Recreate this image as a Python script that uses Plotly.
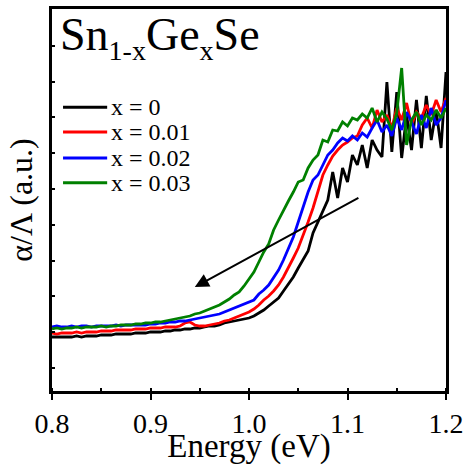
import plotly.graph_objects as go

energy = [round(0.8 + 0.005 * i, 3) for i in range(81)]

# absorption (a.u.)
y_x000 = [54, 54, 54, 54, 54, 55, 54, 55, 55, 55,
          56, 56, 56, 57, 57, 57, 57, 58, 58, 58,
          59, 59, 59, 60, 60, 61, 61, 62, 62, 63,
          63, 64, 65, 65, 66, 68, 69, 70, 71, 72,
          73, 75, 78, 81, 85, 89, 93, 100, 107, 114,
          123, 131, 140, 158, 169, 181, 191, 219, 193, 223,
          209, 236, 226, 246, 223, 251, 241, 234, 309, 239,
          299, 233, 276, 241, 291, 243, 295, 251, 281, 243,
          319]
y_x001 = [58, 57, 58, 58, 58, 59, 58, 59, 59, 59,
          60, 60, 60, 61, 61, 61, 61, 62, 62, 62,
          63, 63, 63, 64, 64, 64, 65, 68, 69, 66,
          65, 65, 66, 67, 68, 70, 71, 73, 75, 77,
          79, 82, 86, 91, 95, 100, 106, 114, 123, 133,
          143, 155, 169, 183, 199, 216, 226, 235, 241, 246,
          249, 253, 255, 266, 273, 263, 281, 269, 276, 263,
          283, 271, 288, 266, 279, 273, 286, 276, 291, 279,
          293]
y_x002 = [64, 65, 64, 64, 65, 64, 65, 65, 64, 65,
          65, 65, 65, 66, 65, 66, 66, 66, 66, 66,
          67, 67, 68, 68, 69, 69, 70, 70, 71, 72,
          73, 74, 75, 76, 77, 79, 81, 83, 85, 87,
          89, 91, 97, 101, 106, 114, 121, 131, 143, 154,
          169, 184, 199, 211, 216, 226, 236, 241, 248, 253,
          250, 255, 251, 258, 254, 263, 271, 259, 266, 255,
          273, 261, 279, 269, 257, 276, 263, 283, 266, 273,
          291]
y_x003 = [62, 63, 62, 63, 63, 64, 63, 64, 64, 64,
          65, 64, 65, 65, 66, 66, 66, 67, 67, 68,
          68, 69, 69, 70, 71, 72, 73, 74, 75, 77,
          78, 80, 82, 84, 86, 89, 92, 96, 99, 105,
          112, 119, 129, 139, 147, 161, 171, 181, 190, 199,
          209, 211, 223, 231, 236, 251, 249, 261, 260, 269,
          265, 273, 271, 277, 273, 283, 269, 279, 272, 261,
          278, 323, 246, 271, 279, 266, 276, 271, 281, 273,
          283]

names = ["x = 0", "x = 0.01", "x = 0.02", "x = 0.03"]
values = [y_x000, y_x001, y_x002, y_x003]
colors = ["#000000", "#ff0000", "#0000ff", "#008000"]

FONT = "Liberation Serif"

fig = go.Figure()
for name, ys, col in zip(names, values, colors):
    fig.add_trace(go.Scatter(x=energy, y=ys, mode="lines", name=name,
                             line=dict(color=col, width=2.8)))

# legend drawn in paper space
leg_y = [0.743, 0.678, 0.610, 0.545]
for name, col, ly in zip(names, colors, leg_y):
    fig.add_shape(type="line", xref="paper", yref="paper",
                  x0=0.028, x1=0.14, y0=ly, y1=ly,
                  line=dict(color=col, width=3))
    fig.add_annotation(x=0.145, y=ly, xref="paper", yref="paper",
                       xanchor="left", yanchor="middle", showarrow=False,
                       text=name, font=dict(family=FONT, size=24, color="black"))

fig.add_annotation(x=0.945, y=104, ax=1.1126, ay=194, xref="x", yref="y",
                   axref="x", ayref="y", showarrow=True, arrowhead=2,
                   arrowsize=1.4, arrowwidth=2, arrowcolor="black", text="")

fig.add_annotation(x=0.015, y=1.005, xref="paper", yref="paper",
                   xanchor="left", yanchor="top", showarrow=False,
                   text="Sn<sub><span style='font-size:28px'>1-x</span></sub>Ge<sub><span style='font-size:28px'>x</span></sub>Se",
                   font=dict(family=FONT, size=46, color="black"))

fig.update_layout(
    width=463, height=465,
    margin=dict(l=52, r=17, t=9, b=74),
    paper_bgcolor="white", plot_bgcolor="white",
    font=dict(family=FONT, color="black"),
    showlegend=False,
)
fig.update_xaxes(range=[0.8, 1.2], dtick=0.1, tick0=0.8, tickformat=".1f",
                 ticks="outside", ticklen=6, tickwidth=2, tickcolor="black",
                 minor=dict(dtick=0.05, ticks="inside", ticklen=3, tickwidth=1.5, tickcolor="black"),
                 showline=True, linewidth=2.5, linecolor="black", mirror=True,
                 showgrid=False, zeroline=False, automargin=False,
                 ticklabeloverflow="allow",
                 tickfont=dict(family="Times New Roman", size=28, color="black"),
                 title=dict(text="Energy (eV)", font=dict(family=FONT, size=33), standoff=7))
fig.update_yaxes(range=[0, 382], tick0=23, dtick=35.8, showticklabels=False,
                 ticks="inside", ticklen=3, tickwidth=1.5, tickcolor="black",
                 showline=True, linewidth=2.5, linecolor="black", mirror=True,
                 showgrid=False, zeroline=False, automargin=False,
                 title=dict(text="α/Λ (a.u.)", font=dict(family=FONT, size=32), standoff=8))

fig.write_html("out.html")
